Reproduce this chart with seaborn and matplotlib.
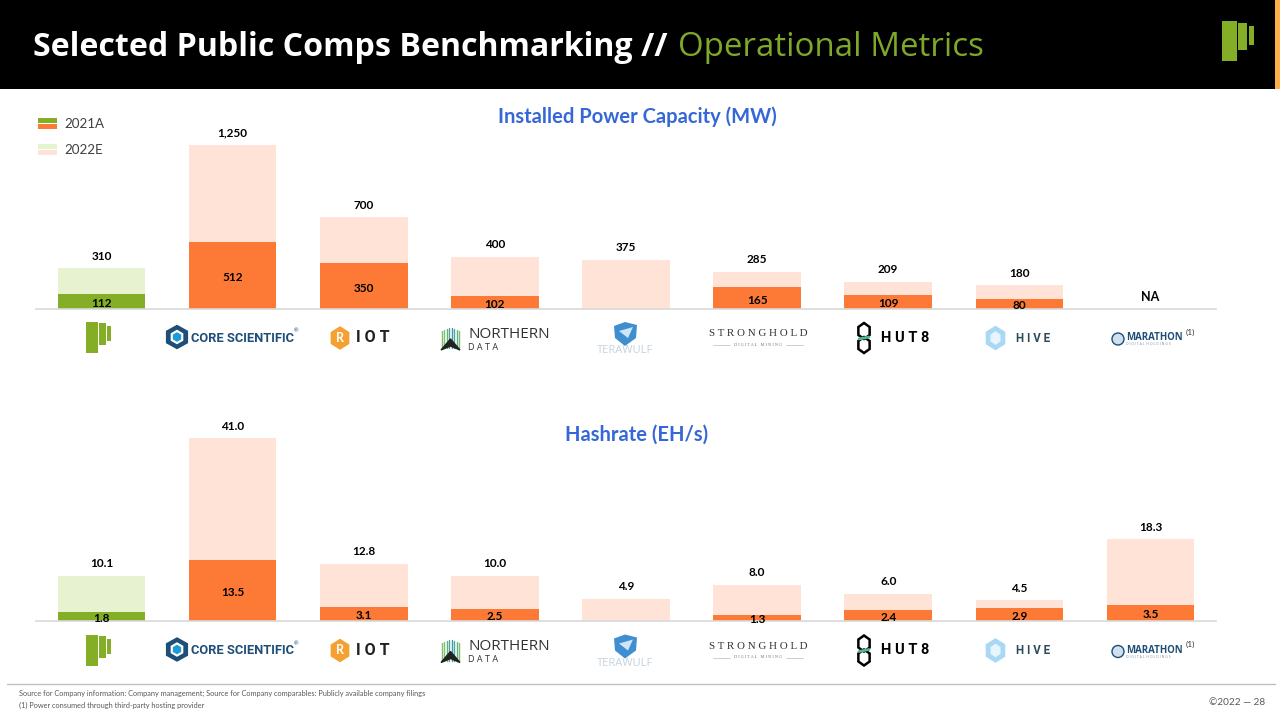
import numpy as np
import pandas as pd
import matplotlib.pyplot as plt
from matplotlib.patches import Rectangle, Polygon, Circle
import seaborn as sns

# --- data ---
companies = ["Company", "Core Scientific", "Riot", "Northern Data", "TeraWulf",
             "Stronghold", "Hut 8", "Hive", "Marathon"]
power_2022 = [310, 1250, 700, 400, 375, 285, 209, 180, np.nan]
power_2021 = [112, 512, 350, 102, np.nan, 165, 109, 80, np.nan]
hash_2022 = [10.1, 41.0, 12.8, 10.0, 4.9, 8.0, 6.0, 4.5, 18.3]
hash_2021 = [1.8, 13.5, 3.1, 2.5, np.nan, 1.3, 2.4, 2.9, 3.5]

GREEN = "#84AE26"
ORANGE = "#FD7A36"
LIGHT_GREEN = "#E7F3D0"
LIGHT_ORANGE = "#FEE3D6"
BLUE = "#3567D6"
TITLE_GREEN = "#7FA82A"
NAVY = "#1F4E79"
FONT = "Lato"
px = 72 / 100  # points per pixel at dpi 100

sns.set_theme(style="white")
plt.rcParams["font.family"] = [FONT, "DejaVu Sans"]

fig = plt.figure(figsize=(12.8, 7.2), dpi=100)

# full-figure layer in pixel coords for the header, legend, logos, footer
bg = fig.add_axes([0, 0, 1, 1], zorder=0)
bg.set_xlim(0, 1280)
bg.set_ylim(720, 0)
bg.axis("off")


def box(x0, y0, x1, y1, color):
    bg.add_patch(Rectangle((x0, y0), x1 - x0, y1 - y0, color=color, lw=0))


def hexagon(cx, cy, rx, ry, **kw):
    ang = np.deg2rad(np.arange(30, 390, 60))
    bg.add_patch(Polygon(np.c_[cx + rx * np.cos(ang), cy + ry * np.sin(ang)], closed=True, **kw))


def label(x, y, s, size, color="black", ha="left", **kw):
    bg.text(x, y, s, fontsize=size, color=color, ha=ha, va="center", **kw)


# --- header ---
box(0, 0, 1275, 88.5, "black")
box(1275, 0, 1280, 88.5, "#FFB04D")
label(33, 48, "Selected Public Comps Benchmarking //", 23.1, "white", family="Open Sans", weight="bold")
label(678, 48, "Operational Metrics", 23.8, TITLE_GREEN, family="Open Sans")
box(1222, 21, 1236.5, 61, GREEN)
box(1238, 22.5, 1246.5, 49.5, GREEN)
box(1248.5, 25.5, 1254, 44.5, GREEN)

# --- legend ---
box(38, 118, 57, 123, GREEN)
box(38, 124, 57, 129, ORANGE)
box(38, 144, 57, 149, LIGHT_GREEN)
box(38, 150, 57, 155, LIGHT_ORANGE)
label(64, 124, "2021A", 9.6, "#404040")
label(64, 150, "2022E", 9.6, "#404040")

# --- section titles ---
label(637, 116.5, "Installed Power Capacity (MW)", 14.5, BLUE, ha="center", weight="bold")
label(637, 434.5, "Hashrate (EH/s)", 14.5, BLUE, ha="center", weight="bold")


# --- bars ---
def bar_panel(rect, totals, actuals, ymax, fmt):
    ax = fig.add_axes(rect, zorder=2)
    ax.patch.set_alpha(0)
    df = pd.DataFrame({"company": companies, "total": totals, "actual": actuals})
    back = [LIGHT_GREEN] + [LIGHT_ORANGE] * 8
    front = [GREEN] + [ORANGE] * 8
    sns.barplot(data=df, x="company", y="total", hue="company", palette=back, linewidth=0,
                width=0.667, legend=False, saturation=1, ax=ax, order=companies)
    sns.barplot(data=df, x="company", y="actual", hue="company", palette=front, linewidth=0,
                width=0.667, legend=False, saturation=1, ax=ax, order=companies)
    ax.set_xlim(-0.5, 8.5)
    ax.set_ylim(0, ymax)
    ax.set_xticks([])
    ax.set_yticks([])
    ax.set_xlabel("")
    ax.set_ylabel("")
    sns.despine(ax=ax, left=True)
    ax.spines["bottom"].set_color("#D9D9D9")
    ax.spines["bottom"].set_linewidth(1.2)

    for i, (t, a) in enumerate(zip(totals, actuals)):
        if np.isnan(t):
            ax.annotate("NA", (i, 0), xytext=(0, 12 * px), textcoords="offset points",
                        ha="center", va="center", fontsize=9, color="black", weight="bold")
        else:
            ax.annotate(fmt.format(t), (i, t), xytext=(0, 12 * px), textcoords="offset points",
                        ha="center", va="center", fontsize=8.5, color="black", weight="bold")
        if not np.isnan(a):
            ax.annotate(fmt.format(a), (i, a / 2), xytext=(0, -2 * px), textcoords="offset points",
                        ha="center", va="center", fontsize=8.5, color="black", weight="bold")


bar_panel([36 / 1280, 1 - 309 / 720, 1180 / 1280, 164 / 720], power_2022, power_2021, 1250, "{:,.0f}")
bar_panel([36 / 1280, 1 - 620.5 / 720, 1180 / 1280, 182.5 / 720], hash_2022, hash_2021, 41, "{:.1f}")


# --- logo row, drawn roughly ---
def logos(dy):
    # own logo
    box(86, 322 + dy, 97.5, 353 + dy, GREEN)
    box(99, 323 + dy, 106, 345 + dy, GREEN)
    box(107, 326 + dy, 111, 341 + dy, GREEN)
    # core scientific
    hexagon(177, 337 + dy, 12, 11.5, color=NAVY)
    hexagon(177, 337 + dy, 6.5, 6.5, color="white")
    hexagon(177, 337 + dy, 4, 4, color="#1E9BD7")
    label(191, 338 + dy, "CORE SCIENTIFIC", 9.3, NAVY, weight="bold", family="Roboto")
    label(294, 331 + dy, "®", 4, NAVY)
    # riot
    hexagon(340, 338 + dy, 10, 11, color="#F5A033")
    label(340, 338 + dy, "R", 9, "white", ha="center", weight="bold")
    label(356, 338 + dy, "I O T", 11.5, "#222222", weight="bold", family="Roboto")
    # northern data
    for k, c in enumerate(["#7FBF6A", "#7FBF6A", "#5FB08A", "#4FA59A", "#3F9AA5", "#4FA59A", "#5FB08A", "#7FBF6A"]):
        xl = 441.5 + k * 2.5
        bg.plot([xl, xl], [327 + dy + abs(k - 3.5), 348 + dy], color=c, lw=1, zorder=1)
    bg.add_patch(Polygon([(441, 350 + dy), (450.5, 339 + dy), (460, 350 + dy), (450.5, 346 + dy)],
                         closed=True, color="#222222", zorder=2))
    label(468, 334.5 + dy, "NORTHERN", 11, "#333333", family="Open Sans")
    label(468, 347 + dy, "D A T A", 6.5, "#333333", family="Open Sans")
    # terawulf
    bg.add_patch(Polygon([(614, 326 + dy), (625, 322 + dy), (637, 325 + dy), (636, 338 + dy),
                          (625, 346 + dy), (615, 338 + dy)], closed=True, color="#3F8FD0", lw=0))
    bg.add_patch(Polygon([(619, 331 + dy), (633, 327 + dy), (628, 338 + dy)], closed=True, color="#CDE6F7", lw=0))
    label(625, 350.5 + dy, "TERAWULF", 8, "#C5D3DF", ha="center", family="Open Sans")
    # stronghold
    label(758, 334 + dy, "S T R O N G H O L D", 7.9, "#333333", ha="center", family="Liberation Serif")
    label(758, 345 + dy, "D I G I T A L   M I N I N G", 3.2, "#777777", ha="center", family="Liberation Serif")
    bg.plot([713, 730], [345 + dy, 345 + dy], color="#BBBBBB", lw=0.5)
    bg.plot([786, 803], [345 + dy, 345 + dy], color="#BBBBBB", lw=0.5)
    # hut 8
    hexagon(864, 331 + dy, 6.5, 8, fill=False, ec="black", lw=1.8)
    hexagon(864, 345 + dy, 6.5, 8, fill=False, ec="black", lw=1.8)
    bg.plot([859, 869], [339 + dy, 337 + dy], color="#4DB89A", lw=2)
    label(881, 338 + dy, "H U T 8", 10.5, "black", weight="bold", family="Roboto")
    # hive
    hexagon(995.5, 338 + dy, 10.5, 11.5, color="#A9D8F5")
    hexagon(995.5, 338 + dy, 5, 6, color="#E8F5FD")
    label(1016, 338 + dy, "H I V E", 8.3, "#2A4A5A", weight="bold", family="Roboto")
    # marathon
    bg.add_patch(Circle((1118, 339 + dy), 6, fc="#CFE0EE", ec=NAVY, lw=1))
    label(1126, 338 + dy, "MARATHON", 6.9, NAVY, weight="bold", family="Open Sans")
    label(1126, 344 + dy, "D I G I T A L  H O L D I N G S", 2.5, "#7A8FA3", family="Open Sans")
    label(1186, 332 + dy, "(1)", 6, "#333333")


logos(0)
logos(312.5)

# --- footer ---
bg.plot([7, 1275], [684, 684], color="#BFBFBF", lw=1)
label(19, 693.5, "Source for Company information: Company management; Source for Company comparables: Publicly available company filings",
      5.35, "#595959")
label(19, 705.5, "(1) Power consumed through third-party hosting provider", 5.3, "#595959")
label(1265, 702.5, "©2022 — 28", 7.2, "#595959", ha="right")

plt.savefig("out.png", dpi=100)
